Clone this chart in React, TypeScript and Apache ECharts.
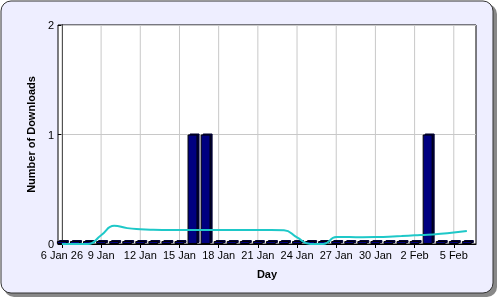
import React, { useEffect, useRef } from "react";
import * as echarts from "echarts";

// Days since 6 Jan 2026 (index 0 = 6 Jan ... 31 = 6 Feb)
const days: number[] = Array.from({ length: 32 }, (_, i) => i);
const downloads: number[] = [
  0, 0, 0, 0, 0, 0, 0, 0, 0, 0, 1, 1, 0, 0, 0, 0,
  0, 0, 0, 0, 0, 0, 0, 0, 0, 0, 0, 0, 1, 0, 0, 0,
];
const trend: number[] = [
  0, 0, 0, 0.08, 0.166, 0.145, 0.135, 0.13, 0.128, 0.127, 0.127, 0.127, 0.127, 0.127, 0.127, 0.127,
  0.127, 0.125, 0.06, 0, 0, 0.063, 0.063, 0.062, 0.063, 0.066, 0.072, 0.079, 0.085, 0.094, 0.105, 0.118,
];
const tickDays: number[] = [0, 3, 6, 9, 12, 15, 18, 21, 24, 27, 30];
const tickLabels: string[] = [
  "6 Jan 26", "9 Jan", "12 Jan", "15 Jan", "18 Jan", "21 Jan", "24 Jan", "27 Jan", "30 Jan", "2 Feb", "5 Feb",
];

const FONT = "Liberation Sans, Arial, sans-serif";

export default function App() {
  const ref = useRef<HTMLDivElement>(null);
  useEffect(() => {
    if (!ref.current) return;
    const chart = echarts.init(ref.current, undefined, { renderer: "svg" });
    const labelMap: Record<number, string> = {};
    tickDays.forEach((d, i) => (labelMap[d] = tickLabels[i]));
    chart.setOption({
      animation: false,
      graphic: [
        {
          type: "rect",
          z: -10,
          shape: { x: 4, y: 4, width: 493, height: 293, r: 10 },
          style: { fill: "#888888" },
          silent: true,
        },
        {
          type: "rect",
          z: -9,
          shape: { x: 1, y: 1, width: 492, height: 292, r: 10 },
          style: { fill: "#eeeeff", stroke: "#333333", lineWidth: 1 },
          silent: true,
        },
      ],
      grid: {
        left: 58,
        right: 24,
        top: 25,
        bottom: 56,
        show: true,
        backgroundColor: "#ffffff",
        borderColor: "#000000",
        borderWidth: 1,
      },
      xAxis: {
        type: "value",
        min: -0.3,
        max: 31.7,
        name: "Day",
        nameLocation: "middle",
        nameGap: 24,
        nameTextStyle: { fontFamily: FONT, fontSize: 11, fontWeight: "bold", color: "#000" },
        axisLine: { show: true, onZero: false, lineStyle: { color: "#000", width: 1 } },
        axisTick: { show: true, length: 4, customValues: tickDays, lineStyle: { color: "#000" } },
        axisLabel: {
          customValues: tickDays,
          formatter: (v: number) => labelMap[Math.round(v)] ?? "",
          fontFamily: FONT,
          fontSize: 11,
          color: "#000",
          margin: 5,
        },
        splitLine: { show: false },
      },
      yAxis: {
        type: "value",
        min: 0,
        max: 2,
        interval: 1,
        name: "Number of Downloads",
        nameLocation: "middle",
        nameGap: 22,
        nameTextStyle: { fontFamily: FONT, fontSize: 11, fontWeight: "bold", color: "#000" },
        axisLine: { show: true, lineStyle: { color: "#000", width: 1 } },
        axisTick: { show: true, length: 4, lineStyle: { color: "#000" } },
        axisLabel: { fontFamily: FONT, fontSize: 11, color: "#000", margin: 4 },
        splitLine: { show: true, lineStyle: { color: "#c8c8c8", width: 1 } },
      },
      series: [
        {
          type: "custom",
          silent: true,
          z: 1,
          renderItem: (params: any, api: any) => {
            const x = api.coord([api.value(0), 0])[0];
            const top = api.coord([0, 2])[1];
            const bottom = api.coord([0, 0])[1];
            return {
              type: "line",
              shape: { x1: x, y1: top, x2: x, y2: bottom },
              style: { stroke: "#c8c8c8", lineWidth: 1 },
            };
          },
          data: tickDays.map((d) => [d]),
        },
        {
          type: "bar",
          z: 2,
          barWidth: 10,
          barMinHeight: 3,
          itemStyle: {
            color: "#000080",
            borderColor: "#000000",
            borderWidth: 1,
            shadowColor: "#000030",
            shadowOffsetX: 2,
            shadowOffsetY: -1,
            shadowBlur: 0,
          },
          data: days.map((d, i) => [d, downloads[i]]),
        },
        {
          type: "line",
          z: 3,
          smooth: 0.5,
          symbol: "none",
          lineStyle: { color: "#1ec8c8", width: 2 },
          data: days.map((d, i) => [d, trend[i]]),
        },
      ],
    });
    return () => chart.dispose();
  }, []);
  return (
    <div
      ref={ref}
      style={{ position: "fixed", left: 0, top: 0, width: 500, height: 300 }}
    />
  );
}
